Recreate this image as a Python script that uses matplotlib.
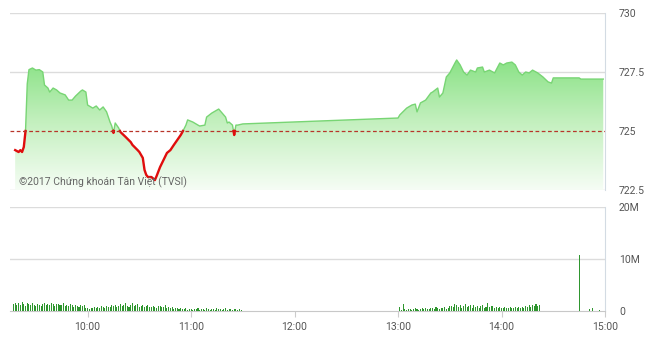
import numpy as np
import matplotlib
matplotlib.use("Agg")
import matplotlib.pyplot as plt
from matplotlib.colors import LinearSegmentedColormap

plt.rcParams['font.family'] = ['Roboto', 'DejaVu Sans']

# intraday VN30-style index
price_times = ["09:18", "09:20", "09:21", "09:22", "09:23", "09:24", "09:25", "09:26",
               "09:28", "09:30", "09:32", "09:34", "09:35", "09:37", "09:38", "09:40",
               "09:42", "09:44", "09:47", "09:49", "09:51", "09:53", "09:56", "09:57",
               "09:59", "10:00", "10:03", "10:05", "10:07", "10:09", "10:11", "10:13",
               "10:14", "10:15", "10:16", "10:18", "10:19", "10:22", "10:25", "10:26",
               "10:29", "10:30", "10:32", "10:33", "10:34", "10:35", "10:37", "10:39",
               "10:40", "10:42", "10:44", "10:46", "10:48", "10:50", "10:52", "10:54",
               "10:55", "10:57", "10:58", "11:01", "11:04", "11:05", "11:08", "11:09",
               "11:12", "11:16", "11:18", "11:20", "11:21", "11:22", "11:24", "11:25",
               "11:26", "11:27", "11:30", "13:00", "13:01", "13:05", "13:08", "13:10",
               "13:11", "13:13", "13:16", "13:19", "13:20", "13:23", "13:24", "13:26",
               "13:28", "13:30", "13:33", "13:34", "13:36", "13:38", "13:40", "13:42",
               "13:45", "13:46", "13:49", "13:50", "13:53", "13:56", "13:59", "14:01",
               "14:03", "14:06", "14:08", "14:10", "14:12", "14:14", "14:16", "14:18",
               "14:21", "14:24", "14:27", "14:29", "14:30", "14:45", "14:46", "14:59"]
price_vals = [724.19, 724.11, 724.19, 724.11, 724.32, 725.0, 727.0, 727.6,
              727.67, 727.58, 727.6, 727.5, 726.95, 726.82, 726.65, 726.82,
              726.74, 726.61, 726.53, 726.31, 726.31, 726.48, 726.69, 726.74,
              726.65, 726.10, 725.97, 726.06, 725.89, 726.02, 725.81, 725.38,
              725.21, 724.92, 725.34, 725.13, 724.96, 724.75, 724.53, 724.41,
              724.19, 724.11, 723.86, 723.35, 723.14, 723.05, 723.05, 722.92,
              723.09, 723.47, 723.77, 724.07, 724.19, 724.41, 724.62, 724.83,
              724.96, 725.25, 725.47, 725.38, 725.25, 725.21, 725.25, 725.59,
              725.76, 725.93, 725.76, 725.59, 725.34, 725.38, 725.25, 724.83,
              725.25, 725.25, 725.30, 725.55, 725.68, 725.97, 726.10, 726.14,
              725.81, 726.19, 726.31, 726.61, 726.65, 726.82, 726.44, 726.61,
              727.29, 727.46, 727.88, 728.01, 727.80, 727.50, 727.37, 727.58,
              727.50, 727.67, 727.71, 727.50, 727.58, 727.46, 727.88, 727.80,
              727.88, 727.92, 727.80, 727.50, 727.37, 727.50, 727.46, 727.58,
              727.46, 727.29, 727.08, 727.03, 727.25, 727.25, 727.2, 727.2]
ref_price = 725.0

# volume per minute, millions
vol_am_start = "09:17"
vol_am = [1.3, 1.5, 1.1, 1.6, 1.2, 1.8, 1.4, 1.0, 1.5, 1.3,
          1.2, 1.6, 1.1, 0.9, 1.4, 1.2, 1.0, 1.3, 1.5, 1.1,
          1.4, 1.2, 1.6, 1.3, 1.0, 1.3, 1.4, 1.1, 1.2, 1.5,
          1.0, 1.2, 0.9, 1.3, 1.1, 0.8, 1.2, 1.0, 0.7, 1.1,
          0.9, 1.2, 0.6, 0.5, 0.4, 0.6, 0.5, 0.7, 0.6, 0.8,
          0.5, 0.9, 0.7, 0.6, 1.0, 0.8, 0.7, 1.1, 0.9, 1.2,
          0.8, 1.0, 1.3, 0.9, 1.1, 1.5, 1.0, 0.8, 1.2, 1.6,
          0.9, 1.1, 1.4, 0.8, 1.0, 1.2, 0.7, 0.9, 1.1, 0.8,
          0.7, 0.9, 0.8, 0.6, 0.9, 1.0, 0.7, 0.8, 1.1, 0.6,
          0.8, 0.5, 0.7, 0.4, 0.6, 0.5, 0.3, 0.5, 0.4, 0.3,
          0.5, 0.2, 0.4, 0.3, 0.2, 0.4, 0.3, 0.5, 0.2, 0.3,
          0.4, 0.2, 0.5, 0.3, 0.2, 0.4, 0.3, 0.2, 0.5, 0.3,
          0.4, 0.2, 0.3, 0.5, 0.2, 0.4, 0.3, 0.2, 0.4, 0.3,
          0.2, 0.3, 0.2]
vol_pm_start = "13:01"
vol_pm = [0.8, 0.1, 1.3, 0.3, 0.2, 0.4, 0.3, 0.2, 0.4, 0.5,
          0.3, 0.2, 0.4, 0.5, 0.3, 0.6, 0.4, 0.3, 0.5, 0.6,
          0.4, 0.7, 0.5, 0.4, 0.6, 0.5, 0.8, 0.4, 0.6, 0.9,
          1.0, 0.7, 1.4, 1.1, 0.8, 1.2, 0.6, 1.0, 1.3, 0.7,
          0.9, 1.1, 0.6, 1.2, 0.8, 1.0, 0.6, 0.9, 1.1, 0.5,
          0.8, 1.6, 0.7, 0.9, 1.0, 0.6, 0.8, 0.5, 0.7, 0.6,
          0.5, 0.7, 0.6, 0.5, 0.7, 0.6, 0.5, 0.7, 0.6, 0.8,
          0.5, 0.7, 0.6, 0.9, 0.7, 1.1, 0.8, 1.2, 1.0, 1.3,
          0.9, 1.2]
vol_atc_times = ["14:45", "14:51", "14:53", "14:57"]
vol_atc = [10.7, 0.3, 0.5, 0.2]


def to_hours(s):
    h, m = s.split(":")
    return int(h) + int(m) / 60.0


def minute_range(start, n):
    t0 = to_hours(start)
    return t0 + np.arange(n) / 60.0


px = np.array([to_hours(t) for t in price_times])
py = np.array(price_vals)

# insert crossing points so red/green switch exactly at the reference line
xs, ys = [px[0]], [py[0]]
for i in range(1, len(px)):
    a, b = py[i - 1], py[i]
    if (a - ref_price) * (b - ref_price) < 0:
        f = (ref_price - a) / (b - a)
        xs.append(px[i - 1] + f * (px[i] - px[i - 1]))
        ys.append(ref_price)
    xs.append(px[i])
    ys.append(py[i])
xs = np.array(xs)
ys = np.array(ys)

fig = plt.figure(figsize=(6.6, 3.41), dpi=100)
ax = fig.add_axes([10 / 660, 1 - 190 / 341, 595 / 660, 177 / 341])
axv = fig.add_axes([10 / 660, 1 - 311 / 341, 595 / 660, 104 / 341])

xlim = (9.25, 15.0)
ylim = (722.5, 730.0)

# gradient fill under the price line
cmap = LinearSegmentedColormap.from_list("g", ["#f6fdf5", "#c4f0bf", "#86e182"])
grad = np.linspace(0, 1, 256).reshape(-1, 1)
im = ax.imshow(grad, extent=[xlim[0], xlim[1], ylim[0], 728.2], origin="lower",
               aspect="auto", cmap=cmap, zorder=1)
poly = ax.fill_between(xs, ys, ylim[0], color="none", lw=0)
clip = poly.get_paths()[0]
im.set_clip_path(clip, transform=ax.transData)

green_y = np.ma.masked_where(ys < ref_price, ys)
red_y = np.ma.masked_where(ys > ref_price, ys)
ax.plot(xs, green_y, color="#78d574", lw=1.0, zorder=3)
ax.plot(xs, red_y, color="#e00d0d", lw=1.7, zorder=4)

ax.axhline(ref_price, color="#b8352a", lw=0.9, ls=(0, (3, 2)), zorder=5)
for v in (727.5, 730.0, 722.5):
    ax.axhline(v, color="#dcdcdc", lw=1.0, zorder=0)

ax.text(9.34, 722.7, "©2017 Chứng khoán Tân Việt (TVSI)", fontsize=7.5,
        color="#666666", zorder=6)

ax.set_xlim(*xlim)
ax.set_ylim(*ylim)
ax.set_yticks([722.5, 725, 727.5, 730])
ax.set_yticklabels(["722.5", "725", "727.5", "730"])
ax.yaxis.tick_right()
ax.tick_params(axis="y", length=0, pad=10, labelsize=7.5, labelcolor="#555555")
ax.set_xticks([])
for s in ("top", "bottom", "left"):
    ax.spines[s].set_visible(False)
ax.spines["right"].set_color("#d3dbe3")

# volume panel
t_am = minute_range(vol_am_start, len(vol_am))
t_pm = minute_range(vol_pm_start, len(vol_pm))
t_atc = np.array([to_hours(t) for t in vol_atc_times])
bw = 0.6 / 60
axv.bar(t_am, vol_am, width=bw, color="#2f962f", zorder=3)
axv.bar(t_pm, vol_pm, width=bw, color="#2f962f", zorder=3)
axv.bar(t_atc, vol_atc, width=bw, color="#2f962f", zorder=3)
for v in (10, 20):
    axv.axhline(v, color="#dcdcdc", lw=1.0, zorder=0)

axv.set_xlim(*xlim)
axv.set_ylim(0, 20)
hours = [10, 11, 12, 13, 14, 15]
axv.set_xticks(hours)
axv.set_xticklabels(["%d:00" % h for h in hours])
axv.tick_params(axis="x", length=4, color="#cccccc", pad=4, labelsize=7.5,
                labelcolor="#555555")
axv.set_yticks([0, 10, 20])
axv.set_yticklabels(["0", "10M", "20M"])
axv.yaxis.tick_right()
axv.tick_params(axis="y", length=0, pad=10, labelsize=7.5, labelcolor="#555555")
for s in ("top", "left"):
    axv.spines[s].set_visible(False)
axv.spines["right"].set_color("#d3dbe3")
axv.spines["bottom"].set_color("#c8c8c8")

fig.savefig("out.png", dpi=100)
